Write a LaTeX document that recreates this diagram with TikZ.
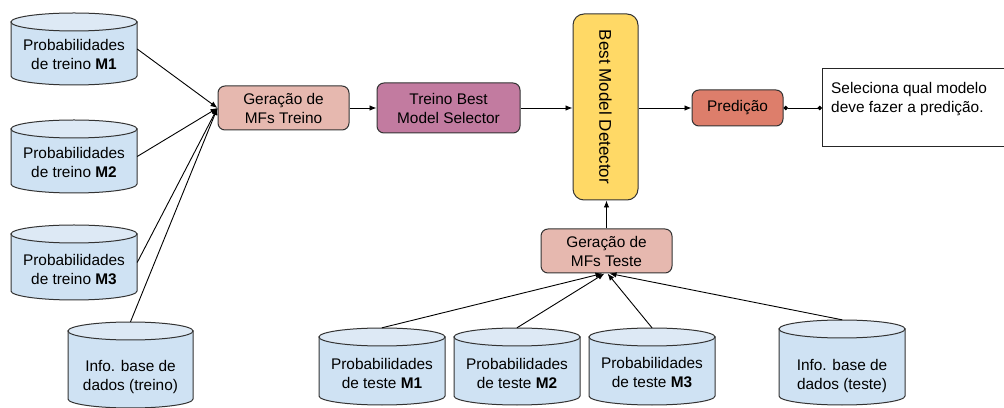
\documentclass[tikz,border=0pt]{standalone}
\usepackage{fontspec}
\setmainfont{Liberation Sans}
\usetikzlibrary{arrows.meta}

\definecolor{cylfill}{HTML}{CFE2F3}
\definecolor{cyltopfill}{HTML}{DDE9F5}
\definecolor{mfsfill}{HTML}{E6B8AF}
\definecolor{selfill}{HTML}{C27BA0}
\definecolor{detfill}{HTML}{FFD966}
\definecolor{predfill}{HTML}{DD7E6B}
\definecolor{edge}{HTML}{333333}

\tikzset{
  txt/.style={font=\fontsize{15.4}{19}\selectfont, align=center, inner sep=0pt},
  proc/.style={txt, draw=edge, line width=1pt, rounded corners=7pt},
  flow/.style={line width=0.9pt, -{Latex[length=7pt,width=5.5pt]}},
  cylbody/.style={fill=cylfill, draw=edge, line width=1pt},
  cyltop/.style={fill=cyltopfill, draw=edge, line width=1pt},
}

% database cylinder: name, left x, right x, top y, bottom y, label y, label
\newcommand\dbcyl[7]{%
  \pgfmathsetmacro\cylcx{(#2+#3)/2}%
  \pgfmathsetmacro\cylrx{(#3-#2)/2}%
  \draw[cylbody] (#2,#4-9) -- (#2,#5+9)
    arc[start angle=180, end angle=360, x radius=\cylrx, y radius=9]
    -- (#3,#4-9) -- cycle;
  \draw[cyltop] (\cylcx,#4-9) ellipse[x radius=\cylrx, y radius=9];
  \node[minimum width=#3pt-#2pt, minimum height=#4pt-#5pt, inner sep=0pt]
    (#1) at (\cylcx,{(#4+#5)/2}) {};
  \node[txt] (#1-label) at (\cylcx,#6) {#7};
}

\begin{document}
\begin{tikzpicture}[x=1pt,y=1pt]
\useasboundingbox (0,0) rectangle (1004,407);

% training inputs
\dbcyl{lm1}{11}{137}{394}{322}{352.5}{Probabilidades\\de treino \textbf{M1}}
\dbcyl{lm2}{11}{137}{287}{214}{244.5}{Probabilidades\\de treino \textbf{M2}}
\dbcyl{lm3}{11}{137}{182}{107}{137}{Probabilidades\\de treino \textbf{M3}}
\dbcyl{itr}{68}{193}{85}{-1}{29.5}{Info. base de\\dados (treino)}

% test inputs
\dbcyl{tm1}{319}{445}{79}{2}{34}{Probabilidades\\de teste \textbf{M1}}
\dbcyl{tm2}{454}{580}{79}{2}{34}{Probabilidades\\de teste \textbf{M2}}
\dbcyl{tm3}{589}{715}{79}{2}{34}{Probabilidades\\de teste \textbf{M3}}
\dbcyl{ite}{779}{905}{87}{2}{31}{Info. base de\\dados (teste)}

% processing steps
\node[proc, fill=mfsfill, minimum width=131pt, minimum height=44pt] (gt) at (283.5,299) {Geração de\\MFs Treino};
\node[proc, fill=selfill, minimum width=143pt, minimum height=50pt] (sel) at (448.5,299) {Treino Best\\Model Selector};
\node[proc, fill=detfill, rounded corners=11pt, minimum width=65pt, minimum height=186pt] (det) at (605.5,300)
  {\rotatebox[origin=c]{-90}{\fontsize{17}{20}\selectfont Best Model Detector}};
\node[proc, fill=predfill, minimum width=91pt, minimum height=36pt] (pred) at (737.5,299) {Predição};
\node[proc, fill=mfsfill, minimum width=131pt, minimum height=44pt] (gts) at (606.5,156) {Geração de\\MFs Teste};

% note
\node[draw=black!85, line width=1pt, minimum width=200pt, minimum height=78pt, anchor=west] (note) at (822,299) {};
\node[txt, align=left, anchor=north west] (notetext) at ([xshift=9pt,yshift=-14pt]note.north west)
  {Seleciona qual modelo\\deve fazer a predição.};

% connectors
\draw[flow] (lm1.east) -- (gt.west);
\draw[flow] (lm2.east) -- (gt.west);
\draw[flow] (lm3.east) -- (gt.west);
\draw[flow] (itr.north) -- (gt.west);
\draw[flow] (gt.east) -- (sel.west);
\draw[flow] (sel.east) -- (sel.east -| det.west);
\draw[flow] (pred.west -| det.east) -- (pred.west);
\draw[line width=0.9pt, {Circle[length=4.5pt]}-{Circle[length=4.5pt]}] (pred.east) -- (note.west);
\draw[flow] (gts.north) -- (gts.north |- det.south);
\draw[flow] (tm1.north) -- ([xshift=-4pt]gts.south);
\draw[flow] (tm2.north) -- ([xshift=-2pt]gts.south);
\draw[flow] (tm3.north) -- ([xshift=1pt]gts.south);
\draw[flow] (ite.north) -- ([xshift=3pt]gts.south);
\end{tikzpicture}
\end{document}
